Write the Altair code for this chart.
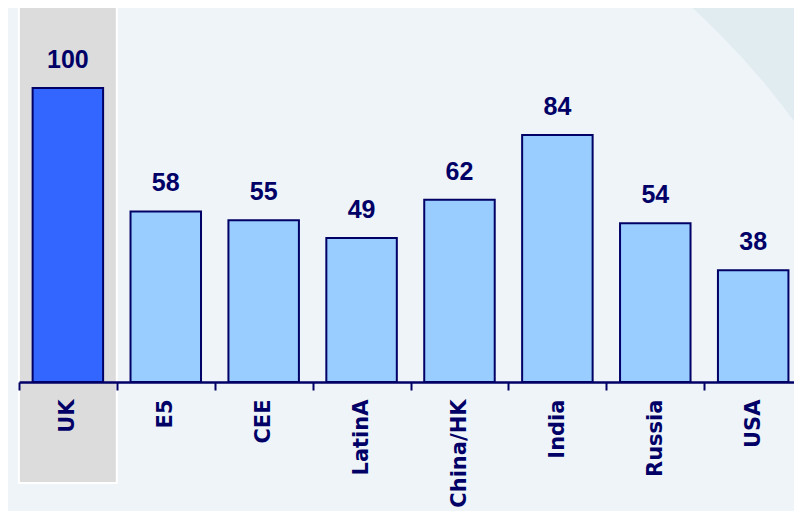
import altair as alt
import pandas as pd

# ---- data ----
categories = ["UK", "E5", "CEE", "LatinA", "China/HK", "India", "Russia", "USA"]
values = [100, 58, 55, 49, 62, 84, 54, 38]
highlight = "UK"

df = pd.DataFrame({"region": categories, "value": values})

NAVY = "#000066"
W, H = 775, 374
pad_in = 0.28
pad_out = 0.098
step = W / (len(categories) - pad_in + 2 * pad_out)
off = pad_in / 2 * step

xscale = alt.Scale(domain=categories, paddingInner=pad_in, paddingOuter=pad_out, align=0.71)
yscale = alt.Scale(domain=[0, 127.2])

xaxis = alt.Axis(
    title=None,
    labelAngle=-90,
    labelFont="DejaVu Sans",
    labelFontWeight="bold",
    labelFontSize=21,
    labelColor=NAVY,
    labelPadding=9,
    labelOverlap=False,
    labelOffset=off,
    bandPosition=0,
    tickOffset=-off,
    tickSize=8,
    tickWidth=2,
    tickColor=NAVY,
    domainColor=NAVY,
    domainWidth=2.5,
    grid=False,
    zindex=1,
)

X = alt.X("region:N", scale=xscale, axis=xaxis, sort=categories)

base = alt.Chart(df)

# background arc (large lighter circle; Vega circle radius = sqrt(size)/2)
bg = alt.Chart(pd.DataFrame({"k": [0]})).mark_circle(
    size=1500 ** 2, color="#EFF4F9", opacity=1
).encode(x=alt.value(169), y=alt.value(555))

shade = base.transform_filter(alt.datum.region == highlight).mark_bar(
    width=alt.RelativeBandSize(1 / (1 - pad_in)),
    fill="#DCDCDC",
    stroke="white",
    strokeWidth=2,
).encode(x=X, y=alt.value(-3), y2=alt.value(475))

bars = base.mark_bar(stroke=NAVY, strokeWidth=2).encode(
    x=X,
    y=alt.Y("value:Q", scale=yscale, axis=None),
    color=alt.condition(
        alt.datum.region == highlight, alt.value("#3366FF"), alt.value("#99CCFF")
    ),
)

labels = base.mark_text(
    dy=-20,
    baseline="alphabetic",
    font="Liberation Sans",
    fontWeight="bold",
    fontSize=25,
    color=NAVY,
).encode(
    x=X,
    y=alt.Y("value:Q", scale=yscale, axis=None),
    text="value:Q",
)

chart = (
    alt.layer(bg, shade, bars, labels)
    .properties(
        width=W,
        height=H,
        background="#E1ECF1",
        padding={"left": 11, "top": 0, "right": 0, "bottom": 129},
        autosize=alt.AutoSizeParams(type="none"),
    )
    .configure_view(stroke=None)
)

chart.save("out.html", embed_options={"renderer": "svg", "actions": False})
